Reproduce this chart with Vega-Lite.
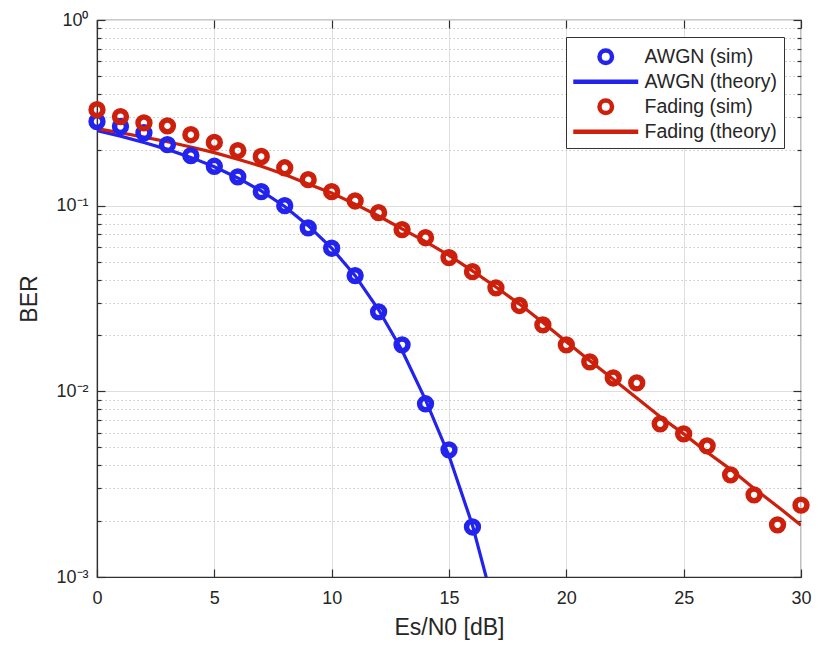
{
  "$schema": "https://vega.github.io/schema/vega-lite/v6.json",
  "width": 704,
  "height": 557,
  "autosize": {"type": "none"},
  "padding": {"left": 97, "top": 20, "right": 17, "bottom": 70},
  "background": "white",
  "config": {
    "view": {"stroke": "#303030", "strokeWidth": 1.2},
    "font": "Liberation Sans",
    "axis": {
      "labelFont": "Liberation Sans",
      "titleFont": "Liberation Sans",
      "labelColor": "#262626",
      "titleColor": "#262626",
      "domainColor": "#303030",
      "tickColor": "#303030",
      "domainWidth": 1.2,
      "tickWidth": 1.2,
      "labelFontSize": 18,
      "titleFontSize": 23,
      "titleFontWeight": "normal",
      "labelFlush": false,
      "labelOverlap": false
    },
    "legend": {
      "labelFont": "Liberation Sans",
      "labelFontSize": 19.5,
      "labelColor": "#262626"
    }
  },
  "datasets": {
    "sim": [
      {"snr": 0, "ber": 0.284, "series": "AWGN (sim)"},
      {"snr": 1, "ber": 0.267, "series": "AWGN (sim)"},
      {"snr": 2, "ber": 0.247, "series": "AWGN (sim)"},
      {"snr": 3, "ber": 0.213, "series": "AWGN (sim)"},
      {"snr": 4, "ber": 0.186, "series": "AWGN (sim)"},
      {"snr": 5, "ber": 0.163, "series": "AWGN (sim)"},
      {"snr": 6, "ber": 0.143, "series": "AWGN (sim)"},
      {"snr": 7, "ber": 0.119, "series": "AWGN (sim)"},
      {"snr": 8, "ber": 0.100, "series": "AWGN (sim)"},
      {"snr": 9, "ber": 0.076, "series": "AWGN (sim)"},
      {"snr": 10, "ber": 0.059, "series": "AWGN (sim)"},
      {"snr": 11, "ber": 0.042, "series": "AWGN (sim)"},
      {"snr": 12, "ber": 0.0268, "series": "AWGN (sim)"},
      {"snr": 13, "ber": 0.0178, "series": "AWGN (sim)"},
      {"snr": 14, "ber": 0.00857, "series": "AWGN (sim)"},
      {"snr": 15, "ber": 0.00484, "series": "AWGN (sim)"},
      {"snr": 16, "ber": 0.00186, "series": "AWGN (sim)"},
      {"snr": 0, "ber": 0.329, "series": "Fading (sim)"},
      {"snr": 1, "ber": 0.302, "series": "Fading (sim)"},
      {"snr": 2, "ber": 0.279, "series": "Fading (sim)"},
      {"snr": 3, "ber": 0.269, "series": "Fading (sim)"},
      {"snr": 4, "ber": 0.241, "series": "Fading (sim)"},
      {"snr": 5, "ber": 0.219, "series": "Fading (sim)"},
      {"snr": 6, "ber": 0.198, "series": "Fading (sim)"},
      {"snr": 7, "ber": 0.184, "series": "Fading (sim)"},
      {"snr": 8, "ber": 0.160, "series": "Fading (sim)"},
      {"snr": 9, "ber": 0.138, "series": "Fading (sim)"},
      {"snr": 10, "ber": 0.119, "series": "Fading (sim)"},
      {"snr": 11, "ber": 0.106, "series": "Fading (sim)"},
      {"snr": 12, "ber": 0.0917, "series": "Fading (sim)"},
      {"snr": 13, "ber": 0.0743, "series": "Fading (sim)"},
      {"snr": 14, "ber": 0.0672, "series": "Fading (sim)"},
      {"snr": 15, "ber": 0.0525, "series": "Fading (sim)"},
      {"snr": 16, "ber": 0.0441, "series": "Fading (sim)"},
      {"snr": 17, "ber": 0.0361, "series": "Fading (sim)"},
      {"snr": 18, "ber": 0.0290, "series": "Fading (sim)"},
      {"snr": 19, "ber": 0.0228, "series": "Fading (sim)"},
      {"snr": 20, "ber": 0.0178, "series": "Fading (sim)"},
      {"snr": 21, "ber": 0.0144, "series": "Fading (sim)"},
      {"snr": 22, "ber": 0.0118, "series": "Fading (sim)"},
      {"snr": 23, "ber": 0.0111, "series": "Fading (sim)"},
      {"snr": 24, "ber": 0.00668, "series": "Fading (sim)"},
      {"snr": 25, "ber": 0.00590, "series": "Fading (sim)"},
      {"snr": 26, "ber": 0.00508, "series": "Fading (sim)"},
      {"snr": 27, "ber": 0.00355, "series": "Fading (sim)"},
      {"snr": 28, "ber": 0.00277, "series": "Fading (sim)"},
      {"snr": 29, "ber": 0.00191, "series": "Fading (sim)"},
      {"snr": 30, "ber": 0.00244, "series": "Fading (sim)"}
    ],
    "theory": [
      {"snr": 0, "ber": 0.254, "series": "AWGN (theory)"},
      {"snr": 1, "ber": 0.237, "series": "AWGN (theory)"},
      {"snr": 2, "ber": 0.219, "series": "AWGN (theory)"},
      {"snr": 3, "ber": 0.201, "series": "AWGN (theory)"},
      {"snr": 4, "ber": 0.182, "series": "AWGN (theory)"},
      {"snr": 5, "ber": 0.162, "series": "AWGN (theory)"},
      {"snr": 6, "ber": 0.141, "series": "AWGN (theory)"},
      {"snr": 7, "ber": 0.120, "series": "AWGN (theory)"},
      {"snr": 8, "ber": 0.099, "series": "AWGN (theory)"},
      {"snr": 9, "ber": 0.078, "series": "AWGN (theory)"},
      {"snr": 10, "ber": 0.059, "series": "AWGN (theory)"},
      {"snr": 11, "ber": 0.042, "series": "AWGN (theory)"},
      {"snr": 12, "ber": 0.0275, "series": "AWGN (theory)"},
      {"snr": 13, "ber": 0.0166, "series": "AWGN (theory)"},
      {"snr": 14, "ber": 0.0090, "series": "AWGN (theory)"},
      {"snr": 15, "ber": 0.0045, "series": "AWGN (theory)"},
      {"snr": 16, "ber": 0.0019, "series": "AWGN (theory)"},
      {"snr": 16.7, "ber": 0.00088, "series": "AWGN (theory)"},
      {"snr": 0, "ber": 0.260, "series": "Fading (theory)"},
      {"snr": 1, "ber": 0.247, "series": "Fading (theory)"},
      {"snr": 2, "ber": 0.234, "series": "Fading (theory)"},
      {"snr": 3, "ber": 0.221, "series": "Fading (theory)"},
      {"snr": 4, "ber": 0.207, "series": "Fading (theory)"},
      {"snr": 5, "ber": 0.193, "series": "Fading (theory)"},
      {"snr": 6, "ber": 0.178, "series": "Fading (theory)"},
      {"snr": 7, "ber": 0.163, "series": "Fading (theory)"},
      {"snr": 8, "ber": 0.147, "series": "Fading (theory)"},
      {"snr": 9, "ber": 0.131, "series": "Fading (theory)"},
      {"snr": 10, "ber": 0.117, "series": "Fading (theory)"},
      {"snr": 11, "ber": 0.102, "series": "Fading (theory)"},
      {"snr": 12, "ber": 0.088, "series": "Fading (theory)"},
      {"snr": 13, "ber": 0.075, "series": "Fading (theory)"},
      {"snr": 14, "ber": 0.064, "series": "Fading (theory)"},
      {"snr": 15, "ber": 0.054, "series": "Fading (theory)"},
      {"snr": 16, "ber": 0.0445, "series": "Fading (theory)"},
      {"snr": 17, "ber": 0.0365, "series": "Fading (theory)"},
      {"snr": 18, "ber": 0.0295, "series": "Fading (theory)"},
      {"snr": 19, "ber": 0.0235, "series": "Fading (theory)"},
      {"snr": 20, "ber": 0.0185, "series": "Fading (theory)"},
      {"snr": 21, "ber": 0.0146, "series": "Fading (theory)"},
      {"snr": 22, "ber": 0.0116, "series": "Fading (theory)"},
      {"snr": 23, "ber": 0.0092, "series": "Fading (theory)"},
      {"snr": 24, "ber": 0.0073, "series": "Fading (theory)"},
      {"snr": 25, "ber": 0.0059, "series": "Fading (theory)"},
      {"snr": 26, "ber": 0.0047, "series": "Fading (theory)"},
      {"snr": 27, "ber": 0.0038, "series": "Fading (theory)"},
      {"snr": 28, "ber": 0.0030, "series": "Fading (theory)"},
      {"snr": 29, "ber": 0.0024, "series": "Fading (theory)"},
      {"snr": 30, "ber": 0.0019, "series": "Fading (theory)"}
    ]
  },
  "resolve": {"axis": {"x": "independent", "y": "independent"}},
  "layer": [
    {
      "data": {"name": "theory"},
      "mark": {"type": "line", "strokeWidth": 3.2, "clip": true},
      "encoding": {
        "x": {
          "field": "snr", "type": "quantitative",
          "scale": {"domain": [0, 30], "nice": false, "zero": false},
          "axis": {
            "orient": "bottom",
            "title": "Es/N0 [dB]",
            "values": [0, 5, 10, 15, 20, 25, 30],
            "tickSize": -8,
            "labelPadding": 20,
            "titlePadding": 9,
            "grid": true,
            "gridColor": "#dedede",
            "gridWidth": 1
          }
        },
        "y": {
          "field": "ber", "type": "quantitative",
          "scale": {"type": "log", "domain": [0.001, 1], "nice": false},
          "axis": {
            "orient": "left",
            "title": "BER",
            "values": [0.001, 0.002, 0.003, 0.004, 0.005, 0.006, 0.007, 0.008, 0.009, 0.01, 0.02, 0.03, 0.04, 0.05, 0.06, 0.07, 0.08, 0.09, 0.1, 0.2, 0.3, 0.4, 0.5, 0.6, 0.7, 0.8, 0.9, 1],
            "labelExpr": "abs(log(datum.value)/LN10 - round(log(datum.value)/LN10)) < 0.001 ? ['10⁻³','10⁻²','10⁻¹','10⁰'][round(log(datum.value)/LN10)+3] : ''",
            "tickSize": {"condition": {"test": "abs(log(datum.value)/LN10 - round(log(datum.value)/LN10)) < 0.001", "value": -8}, "value": -4},
            "labelPadding": 17,
            "titlePadding": 14,
            "grid": true,
            "gridColor": {"condition": {"test": "abs(log(datum.value)/LN10 - round(log(datum.value)/LN10)) < 0.001", "value": "#dedede"}, "value": "#c8c8c8"},
            "gridDash": {"condition": {"test": "abs(log(datum.value)/LN10 - round(log(datum.value)/LN10)) < 0.001", "value": []}, "value": [1.5, 2.5]}
          }
        },
        "color": {
          "field": "series", "type": "nominal",
          "scale": {
            "domain": ["AWGN (sim)", "AWGN (theory)", "Fading (sim)", "Fading (theory)"],
            "range": ["#2323EE", "#2323EE", "#CC200C", "#CC200C"]
          },
          "legend": {
            "title": " ",
            "titleFontSize": 1,
            "titlePadding": 3,
            "orient": "top-right",
            "offset": 17,
            "padding": 6,
            "strokeColor": "#333333",
            "fillColor": "white",
            "symbolSize": 156,
            "symbolOffset": 24,
            "labelOffset": 29,
            "rowPadding": -1,
            "symbolStrokeWidth": 4.5
          }
        }
      }
    },
    {
      "data": {"name": "sim"},
      "mark": {"type": "point", "filled": false, "size": 140, "strokeWidth": 5.5, "opacity": 1},
      "encoding": {
        "x": {
          "field": "snr", "type": "quantitative",
          "axis": {
            "orient": "top",
            "title": null,
            "labels": false,
            "domain": false,
            "grid": false,
            "values": [0, 5, 10, 15, 20, 25, 30],
            "tickSize": -8
          }
        },
        "y": {
          "field": "ber", "type": "quantitative",
          "axis": {
            "orient": "right",
            "title": null,
            "labels": false,
            "domain": false,
            "grid": false,
            "values": [0.001, 0.002, 0.003, 0.004, 0.005, 0.006, 0.007, 0.008, 0.009, 0.01, 0.02, 0.03, 0.04, 0.05, 0.06, 0.07, 0.08, 0.09, 0.1, 0.2, 0.3, 0.4, 0.5, 0.6, 0.7, 0.8, 0.9, 1],
            "tickSize": {"condition": {"test": "abs(log(datum.value)/LN10 - round(log(datum.value)/LN10)) < 0.001", "value": -8}, "value": -4}
          }
        },
        "color": {"field": "series", "type": "nominal"},
        "shape": {
          "field": "series", "type": "nominal",
          "scale": {
            "domain": ["AWGN (sim)", "AWGN (theory)", "Fading (sim)", "Fading (theory)"],
            "range": ["circle", "M-5.2,0H5.2", "circle", "M-5.2,0H5.2"]
          },
          "legend": {"title": " "}
        }
      }
    }
  ]
}
